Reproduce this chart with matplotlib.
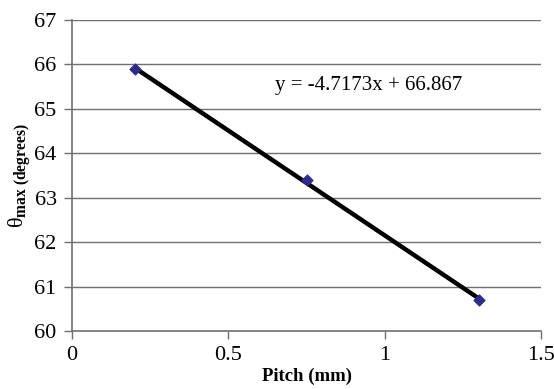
import numpy as np
import matplotlib.pyplot as plt

# pitch (mm) vs maximum angle (degrees)
pitch = [0.2, 0.75, 1.3]
theta_max = [65.9, 63.4, 60.7]
slope = -4.7173
intercept = 66.867
x_ticks = [0, 0.5, 1, 1.5]
y_ticks = [60, 61, 62, 63, 64, 65, 66, 67]

plt.rcParams['font.family'] = ['Liberation Serif', 'DejaVu Serif']
plt.rcParams['mathtext.fontset'] = 'custom'
plt.rcParams['mathtext.rm'] = 'Liberation Serif'
plt.rcParams['mathtext.it'] = 'Liberation Serif:italic'
plt.rcParams['mathtext.bf'] = 'Liberation Serif:bold'

fig = plt.figure(figsize=(5.54, 3.89), dpi=100)
ax = fig.add_axes([0.130, 0.149, 0.847, 0.8])

grid_color = '#707070'
for y in y_ticks[1:]:
    ax.axhline(y, color=grid_color, lw=1.0, zorder=1)

# linear trendline across the data range
xs = np.array([pitch[0], pitch[-1]])
ax.plot(xs, slope * xs + intercept, color='black', lw=3.2, zorder=2,
        solid_capstyle='butt')
ax.scatter(pitch, theta_max, marker='D', s=30, color='#302a8a', zorder=3)

ax.text(0.65, 65.52, f'y = {slope}x + {intercept}', fontsize=15,
        va='center', ha='left')

ax.set_xlim(0, 1.5)
ax.set_ylim(60, 67)
ax.set_xticks(x_ticks)
ax.set_xticklabels(['0', '0.5', '1', '1.5'])
ax.set_yticks(y_ticks)
ax.tick_params(labelsize=16, length=6, width=1, color=grid_color, pad=5)

for side in ['top', 'right']:
    ax.spines[side].set_visible(False)
for side in ['left', 'bottom']:
    ax.spines[side].set_color(grid_color)
    ax.spines[side].set_linewidth(1.2)

ax.set_xlabel('Pitch (mm)', fontsize=13.5, fontweight='bold', labelpad=2)
ax.set_ylabel(r'$\mathrm{\theta}_{\mathbf{max\ (degrees)}}$', fontsize=16)
ax.yaxis.set_label_coords(-0.083, 0.5)

fig.savefig('out.png', dpi=100)
